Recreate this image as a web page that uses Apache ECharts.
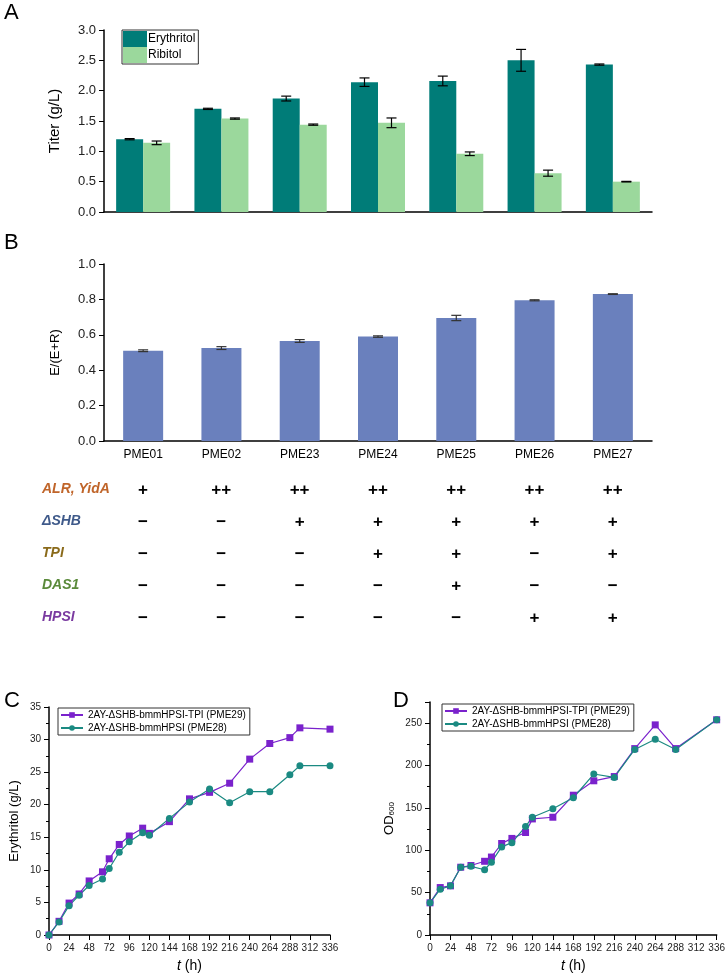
<!DOCTYPE html>
<html><head><meta charset="utf-8">
<script src="https://cdn.jsdelivr.net/npm/echarts@6/dist/echarts.min.js"></script>
<style>html,body{margin:0;padding:0;background:#fff}#c{width:728px;height:980px}</style>
</head><body><div id="c"></div>
<script>
const strains = ['PME01','PME02','PME23','PME24','PME25','PME26','PME27'];
const erythritol = [1.20,1.70,1.87,2.14,2.16,2.50,2.43];
const erythritolErr = [0.01,0.01,0.04,0.07,0.08,0.18,0.01];
const ribitol = [1.14,1.54,1.44,1.47,0.96,0.64,0.50];
const ribitolErr = [0.03,0.01,0.01,0.08,0.03,0.05,0.005];
const ratio = [0.51,0.525,0.565,0.59,0.695,0.795,0.83];
const ratioErr = [0.005,0.008,0.008,0.004,0.015,0.003,0.002];
const geneLabels = ['ALR, YidA','ΔSHB','TPI','DAS1','HPSI'];
const geneColors = ['#c0652a','#3f5a8a','#8a6a1a','#5a8a3a','#7a3aa0'];
const geneTable = [
 ['+','++','++','++','++','++','++'],
 ['−','−','+','+','+','+','+'],
 ['−','−','−','+','+','−','+'],
 ['−','−','−','−','+','−','−'],
 ['−','−','−','−','−','+','+']];
const tC = [0,12,24,36,48,64,72,84,96,112,120,144,168,192,216,240,264,288,300,336];
const ery29 = [0,2.1,4.9,6.3,8.3,9.7,11.7,13.9,15.2,16.4,15.6,17.4,20.9,21.9,23.3,27.0,29.4,30.3,31.8,31.6];
const ery28 = [0,2.0,4.5,6.1,7.6,8.6,10.2,12.7,14.3,15.7,15.3,17.9,20.4,22.4,20.3,22.0,22.0,24.6,26.0,26.0];
const tD = [0,12,24,36,48,64,72,84,96,112,120,144,168,192,216,240,264,288,336];
const od29 = [38,56,58,80,82,87,92,108,114,121,137,139,165,182,187,220,248,220,254];
const od28 = [38,54,58,80,81,77,86,104,109,128,139,149,162,190,186,219,231,219,254];
const name29 = '2AY-ΔSHB-bmmHPSI-TPI (PME29)';
const name28 = '2AY-ΔSHB-bmmHPSI (PME28)';

const chart = echarts.init(document.getElementById('c'));
const font = 'Liberation Sans, Arial, sans-serif';
const axisBlack = {lineStyle:{color:'#000',width:1.5}};
function errSeries(xi, yi, vals, errs, offset, color){
  return {type:'custom', xAxisIndex:xi, yAxisIndex:yi, z:10, silent:true,
    data: vals.map((v,i)=>[i,v,errs[i]]),
    renderItem:(p,api)=>{
      const c = api.coord([api.value(0),api.value(1)]);
      const hi = api.coord([api.value(0),api.value(1)+api.value(2)]);
      const lo = api.coord([api.value(0),api.value(1)-api.value(2)]);
      const x = c[0]+offset, w=5;
      const st={stroke:color||'#000',lineWidth:1.2};
      return {type:'group',children:[
        {type:'line',shape:{x1:x,y1:hi[1],x2:x,y2:lo[1]},style:st},
        {type:'line',shape:{x1:x-w,y1:hi[1],x2:x+w,y2:hi[1]},style:st},
        {type:'line',shape:{x1:x-w,y1:lo[1],x2:x+w,y2:lo[1]},style:st}]};
    }};
}
const graphics = [];
[['A',4,2],['B',4,232],['C',4,690],['D',393,690]].forEach(([t,x,y])=>graphics.push({type:'text',left:x,top:y,style:{text:t,font:'22px '+font,fill:'#000'}}));
geneLabels.forEach((g,r)=>{
  const y = 490 + r*32;
  graphics.push({type:'text',left:42,top:y-8,style:{text:g,font:'italic bold 14px '+font,fill:geneColors[r]}});
  geneTable[r].forEach((s,i)=>{
    graphics.push({type:'text',x:143+i*78.3,y:y,style:{text:s,font:'bold 17px '+font,fill:'#000',align:'center',verticalAlign:'middle'}});
  });
});
const valAxisFont = {color:'#222',fontSize:13,fontFamily:font};
const lineAxisFont = {color:'#222',fontSize:10,fontFamily:font};
const lineLegend = (left,top)=>({left,top,orient:'vertical',itemWidth:22,itemHeight:7,itemGap:3,padding:[2,4,2,2],
  borderColor:'#333',borderWidth:1,textStyle:{fontSize:10,fontFamily:font,color:'#000'},data:[name29,name28],selectedMode:false});
chart.setOption({
  animation:false,
  graphic:graphics,
  legend:[
    {left:122,top:30,orient:'vertical',icon:'rect',itemWidth:24,itemHeight:16,itemGap:0,padding:[1,3,1,1],
      borderColor:'#333',borderWidth:1,textStyle:{fontSize:12,fontFamily:font,color:'#000',padding:[0,0,0,-4]},
      data:['Erythritol','Ribitol'],selectedMode:false},
    lineLegend(58,708), lineLegend(442,704)
  ],
  grid:[
    {left:104,top:30,width:548,height:182},
    {left:104,top:264,width:548,height:177},
    {left:49,top:707,width:281,height:228},
    {left:430,top:702,width:288,height:233}
  ],
  xAxis:[
    {gridIndex:0,type:'category',data:strains,axisLine:axisBlack,axisTick:{show:false},axisLabel:{show:false}},
    {gridIndex:1,type:'category',data:strains,axisLine:axisBlack,axisTick:{show:false},axisLabel:{color:'#000',fontSize:12,fontFamily:font,margin:8}},
    {gridIndex:2,type:'value',min:0,max:336,interval:24,axisLine:axisBlack,axisTick:{show:true,lineStyle:{color:'#000'}},splitLine:{show:false},axisLabel:lineAxisFont,
      name:'{i|t} (h)',nameLocation:'middle',nameGap:24,nameTextStyle:{fontSize:14,fontFamily:font,color:'#000',rich:{i:{fontStyle:'italic',fontSize:14,fontFamily:font}}}},
    {gridIndex:3,type:'value',min:0,max:336,interval:24,axisLine:axisBlack,axisTick:{show:true,lineStyle:{color:'#000'}},splitLine:{show:false},axisLabel:lineAxisFont,
      name:'{i|t} (h)',nameLocation:'middle',nameGap:24,nameTextStyle:{fontSize:14,fontFamily:font,color:'#000',rich:{i:{fontStyle:'italic',fontSize:14,fontFamily:font}}}}
  ],
  yAxis:[
    {gridIndex:0,type:'value',min:0,max:3,interval:0.5,axisLine:{show:true,...axisBlack},axisTick:{show:true,lineStyle:{color:'#000'}},splitLine:{show:false},
      axisLabel:{...valAxisFont,formatter:v=>v.toFixed(1)},name:'Titer (g/L)',nameLocation:'middle',nameGap:42,nameTextStyle:{fontSize:15,fontFamily:font,color:'#000'}},
    {gridIndex:1,type:'value',min:0,max:1,interval:0.2,axisLine:{show:true,...axisBlack},axisTick:{show:true,lineStyle:{color:'#000'}},splitLine:{show:false},
      axisLabel:{...valAxisFont,formatter:v=>v.toFixed(1)},name:'E/(E+R)',nameLocation:'middle',nameGap:42,nameTextStyle:{fontSize:13,fontFamily:font,color:'#000'}},
    {gridIndex:2,type:'value',min:0,max:35,interval:5,axisLine:{show:true,...axisBlack},axisTick:{show:true,lineStyle:{color:'#000'}},minorTick:{show:true,splitNumber:2,lineStyle:{color:'#000'}},splitLine:{show:false},
      axisLabel:lineAxisFont,name:'Erythritol (g/L)',nameLocation:'middle',nameGap:28,nameTextStyle:{fontSize:13,fontFamily:font,color:'#000'}},
    {gridIndex:3,type:'value',min:0,max:275,interval:50,axisLine:{show:true,...axisBlack},axisTick:{show:true,lineStyle:{color:'#000'}},minorTick:{show:true,splitNumber:2,lineStyle:{color:'#000'}},splitLine:{show:false},
      axisLabel:{...lineAxisFont,showMaxLabel:false},name:'OD{s|600}',nameLocation:'middle',nameGap:34,nameTextStyle:{fontSize:13,fontFamily:font,color:'#000',rich:{s:{fontSize:8,verticalAlign:'bottom',padding:[6,0,0,0]}}}}
  ],
  series:[
    {name:'Erythritol',type:'bar',xAxisIndex:0,yAxisIndex:0,data:erythritol,barWidth:27,barGap:'0%',itemStyle:{color:'#007c78'}},
    {name:'Ribitol',type:'bar',xAxisIndex:0,yAxisIndex:0,data:ribitol,barWidth:27,barGap:'0%',itemStyle:{color:'#9bd89c'}},
    errSeries(0,0,erythritol,erythritolErr,-13.5),
    errSeries(0,0,ribitol,ribitolErr,13.5),
    {name:'ratio',type:'bar',xAxisIndex:1,yAxisIndex:1,data:ratio,barWidth:40,itemStyle:{color:'#6a80bd'}},
    errSeries(1,1,ratio,ratioErr,0,'#333'),
    {name:name29,type:'line',xAxisIndex:2,yAxisIndex:2,data:tC.map((t,i)=>[t,ery29[i]]),symbol:'rect',symbolSize:7,color:'#7a22cc',lineStyle:{width:1.2}},
    {name:name28,type:'line',xAxisIndex:2,yAxisIndex:2,data:tC.map((t,i)=>[t,ery28[i]]),symbol:'circle',symbolSize:7,color:'#1b8a82',lineStyle:{width:1.2}},
    {name:name29,type:'line',xAxisIndex:3,yAxisIndex:3,data:tD.map((t,i)=>[t,od29[i]]),symbol:'rect',symbolSize:7,color:'#7a22cc',lineStyle:{width:1.2}},
    {name:name28,type:'line',xAxisIndex:3,yAxisIndex:3,data:tD.map((t,i)=>[t,od28[i]]),symbol:'circle',symbolSize:7,color:'#1b8a82',lineStyle:{width:1.2}}
  ]
});
</script></body></html>
